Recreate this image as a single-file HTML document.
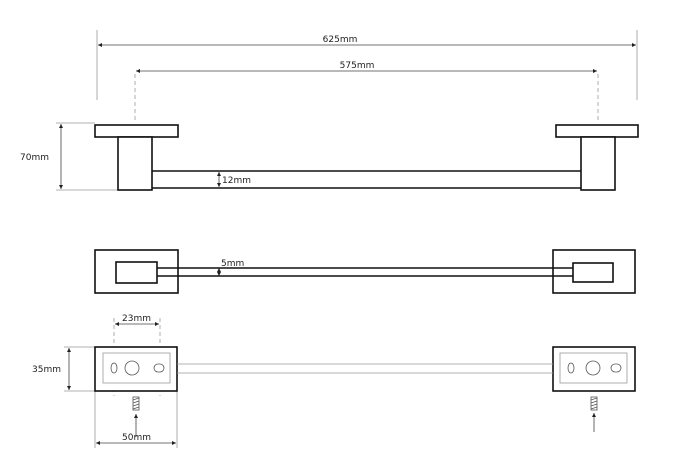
<!DOCTYPE html>
<html><head><style>body{margin:0;background:#fff}svg{display:block}text{font-family:"DejaVu Sans","Liberation Sans",sans-serif;font-size:9px;fill:#222}</style></head><body>
<svg width="673" height="462" viewBox="0 0 673 462" xmlns="http://www.w3.org/2000/svg">
<defs><marker id="a" markerWidth="6" markerHeight="6" refX="5" refY="3" orient="auto-start-reverse"><path d="M0,0.5 L5,3 L0,5.5z" fill="#222"/></marker></defs>
<g stroke="#999" stroke-width="0.8" fill="none">
<line x1="97" y1="30" x2="97" y2="100"/><line x1="637" y1="30" x2="637" y2="100"/>
<line x1="135" y1="74" x2="135" y2="120" stroke-dasharray="4,3"/><line x1="598" y1="74" x2="598" y2="120" stroke-dasharray="4,3"/>
<line x1="56" y1="123" x2="95" y2="123"/><line x1="56" y1="190" x2="118" y2="190"/>
<line x1="64" y1="347" x2="95" y2="347"/><line x1="64" y1="391" x2="95" y2="391"/>
<line x1="114" y1="318" x2="114" y2="396" stroke-dasharray="4,3"/><line x1="160" y1="318" x2="160" y2="396" stroke-dasharray="4,3"/>
<line x1="95" y1="391" x2="95" y2="448"/><line x1="177" y1="391" x2="177" y2="448"/>
</g>
<g stroke="#444" stroke-width="0.8" fill="none" marker-start="url(#a)" marker-end="url(#a)">
<line x1="98" y1="45" x2="636" y2="45"/><line x1="136" y1="71" x2="597" y2="71"/>
<line x1="61" y1="124" x2="61" y2="189"/><line x1="219" y1="172" x2="219" y2="187"/>
<line x1="219" y1="268" x2="219" y2="276"/>
<line x1="115" y1="324" x2="159" y2="324"/><line x1="69" y1="348" x2="69" y2="390"/>
<line x1="96" y1="443" x2="176" y2="443"/>
</g>
<g stroke="#444" stroke-width="0.8" fill="none" marker-end="url(#a)">
<line x1="136" y1="437" x2="136" y2="414"/><line x1="594" y1="432" x2="594" y2="413"/>
</g>
<text x="340" y="42" text-anchor="middle">625mm</text>
<text x="357" y="68" text-anchor="middle">575mm</text>
<text x="20" y="160">70mm</text>
<text x="222" y="183">12mm</text>
<text x="221" y="266">5mm</text>
<text x="122" y="321">23mm</text>
<text x="32" y="372">35mm</text>
<text x="122" y="440">50mm</text>
<g stroke="#111" stroke-width="1.6" fill="#fff">
<rect x="95" y="125" width="83" height="12"/><rect x="118" y="137" width="34" height="53"/>
<rect x="556" y="125" width="82" height="12"/><rect x="581" y="137" width="34" height="53"/>
<line x1="152" y1="171" x2="581" y2="171"/><line x1="152" y1="188" x2="581" y2="188"/>
<rect x="95" y="250" width="83" height="43"/><rect x="116" y="262" width="41" height="21"/>
<rect x="553" y="250" width="82" height="43"/><rect x="573" y="263" width="40" height="19"/>
<line x1="157" y1="268" x2="573" y2="268"/><line x1="157" y1="276" x2="573" y2="276"/>
<rect x="95" y="347" width="82" height="44"/><rect x="553" y="347" width="82" height="44"/>
</g>
<g stroke="#999" stroke-width="0.8" fill="none">
<line x1="177" y1="364" x2="553" y2="364"/><line x1="177" y1="373" x2="553" y2="373"/>
<rect x="103" y="353" width="67" height="30"/><rect x="560" y="353" width="67" height="30"/>
</g>
<g stroke="#555" stroke-width="0.8" fill="none">
<ellipse cx="114" cy="368" rx="3" ry="5"/><circle cx="132" cy="368" r="7"/><rect x="154" y="364" width="10" height="8" rx="4"/>
<ellipse cx="571" cy="368" rx="3" ry="5"/><circle cx="593" cy="368" r="7"/><rect x="611" y="364" width="10" height="8" rx="4"/>
<rect x="133" y="397" width="6" height="13"/><path d="M133,400 l6,-2 M133,403 l6,-2 M133,406 l6,-2 M133,409 l6,-2"/>
<rect x="591" y="397" width="6" height="13"/><path d="M591,400 l6,-2 M591,403 l6,-2 M591,406 l6,-2 M591,409 l6,-2"/>
</g>
</svg></body></html>
